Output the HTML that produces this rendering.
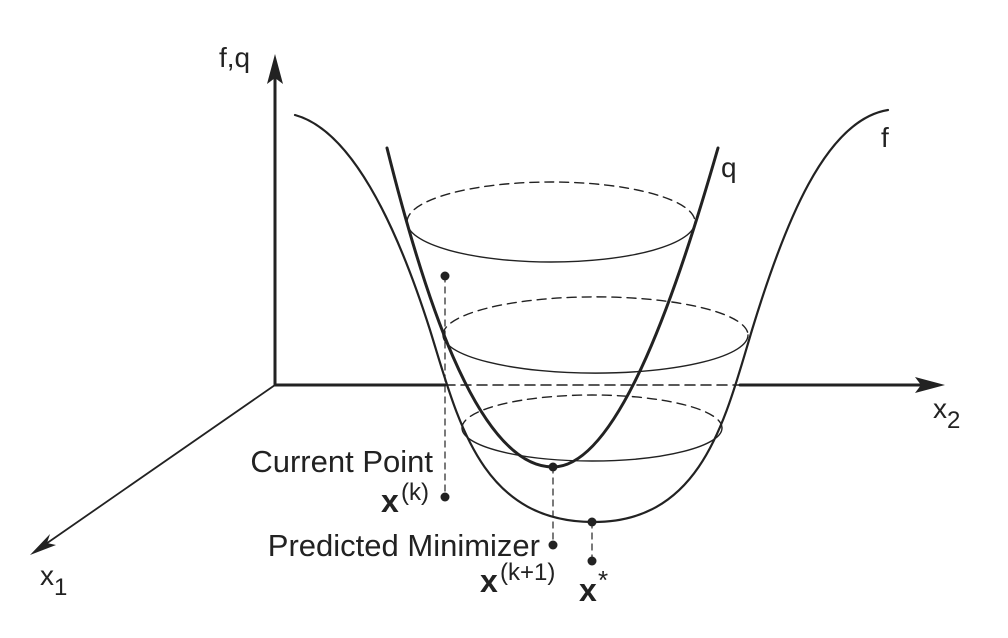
<!DOCTYPE html>
<html><head><meta charset="utf-8"><style>
html,body{margin:0;padding:0;background:#fff;}
svg{display:block;}
text{font-family:"Liberation Sans",Arial,sans-serif;fill:#222;}
</style></head><body>
<svg width="1008" height="638" viewBox="0 0 1008 638" xmlns="http://www.w3.org/2000/svg">
<g stroke="#222" fill="none" stroke-linecap="round">
  <line x1="275" y1="385" x2="275" y2="70" stroke-width="3"/>
  <polygon points="275,54 267,84 275,78 283,84" fill="#222" stroke="none"/>
  <line x1="275" y1="385" x2="445" y2="385" stroke-width="3"/>
  <line x1="445" y1="385" x2="740" y2="385" stroke-width="1.5" stroke-dasharray="10,6"/>
  <line x1="740" y1="385" x2="930" y2="385" stroke-width="3"/>
  <polygon points="945,385 915,377 921,385 915,393" fill="#222" stroke="none"/>
  <line x1="275" y1="385" x2="40" y2="548" stroke-width="1.8"/>
  <polygon points="30,555 50,534 47,543 56,545" fill="#222" stroke="none"/>

  <path d="M407,222 A144,40 0 0 1 695,222" stroke-width="1.4" stroke-dasharray="9,6"/>
  <path d="M443,335 A152,38 0 0 1 748,335" stroke-width="1.4" stroke-dasharray="9,6"/>
  <path d="M462,428 A130,33 0 0 1 722,428" stroke-width="1.4" stroke-dasharray="9,6"/>
  <path d="M407,222 A144,40 0 0 0 695,222" stroke-width="1.4"/>
  <path d="M443,335 A152,38 0 0 0 748,335" stroke-width="1.4"/>
  <path d="M462,428 A130,33 0 0 0 722,428" stroke-width="1.4"/>

  <path d="M295,115 C350,130 395,220 430,330 C458,420 480,521 592,522 C702,523 725,420 752,330 C784,225 825,120 888,110" stroke-width="2.2"/>
  <path d="M387,148 C420,280 475,467 553,467 C620,467 680,280 718,148" stroke-width="3"/>

  <line x1="445" y1="276" x2="445" y2="497" stroke-width="1.2" stroke-dasharray="6,5"/>
  <line x1="553" y1="467" x2="553" y2="545" stroke-width="1.2" stroke-dasharray="6,5"/>
  <line x1="592" y1="522" x2="592" y2="561" stroke-width="1.2" stroke-dasharray="6,5"/>
</g>
<g fill="#222">
  <circle cx="445" cy="276" r="4.5"/>
  <circle cx="445" cy="497" r="4.5"/>
  <circle cx="553" cy="467" r="4.5"/>
  <circle cx="553" cy="545" r="4.5"/>
  <circle cx="592" cy="522" r="4.5"/>
  <circle cx="592" cy="561" r="4.5"/>
</g>
<text x="219" y="67" font-size="28">f,q</text>
<text x="881" y="147" font-size="28">f</text>
<text x="721" y="177" font-size="28">q</text>
<text x="933" y="418" font-size="28">x<tspan font-size="24" dy="10">2</tspan></text>
<text x="40" y="585" font-size="28">x<tspan font-size="24" dy="10">1</tspan></text>
<text x="433" y="472" font-size="31" text-anchor="end">Current Point</text>
<text x="381" y="512" font-size="32" font-weight="bold">x</text>
<text x="401" y="500" font-size="24">(k)</text>
<text x="540" y="556" font-size="31" text-anchor="end">Predicted Minimizer</text>
<text x="480" y="592" font-size="32" font-weight="bold">x</text>
<text x="500" y="580" font-size="24">(k+1)</text>
<text x="579" y="601" font-size="32" font-weight="bold">x</text>
<text x="598" y="589" font-size="26">*</text>
</svg>
</body></html>
